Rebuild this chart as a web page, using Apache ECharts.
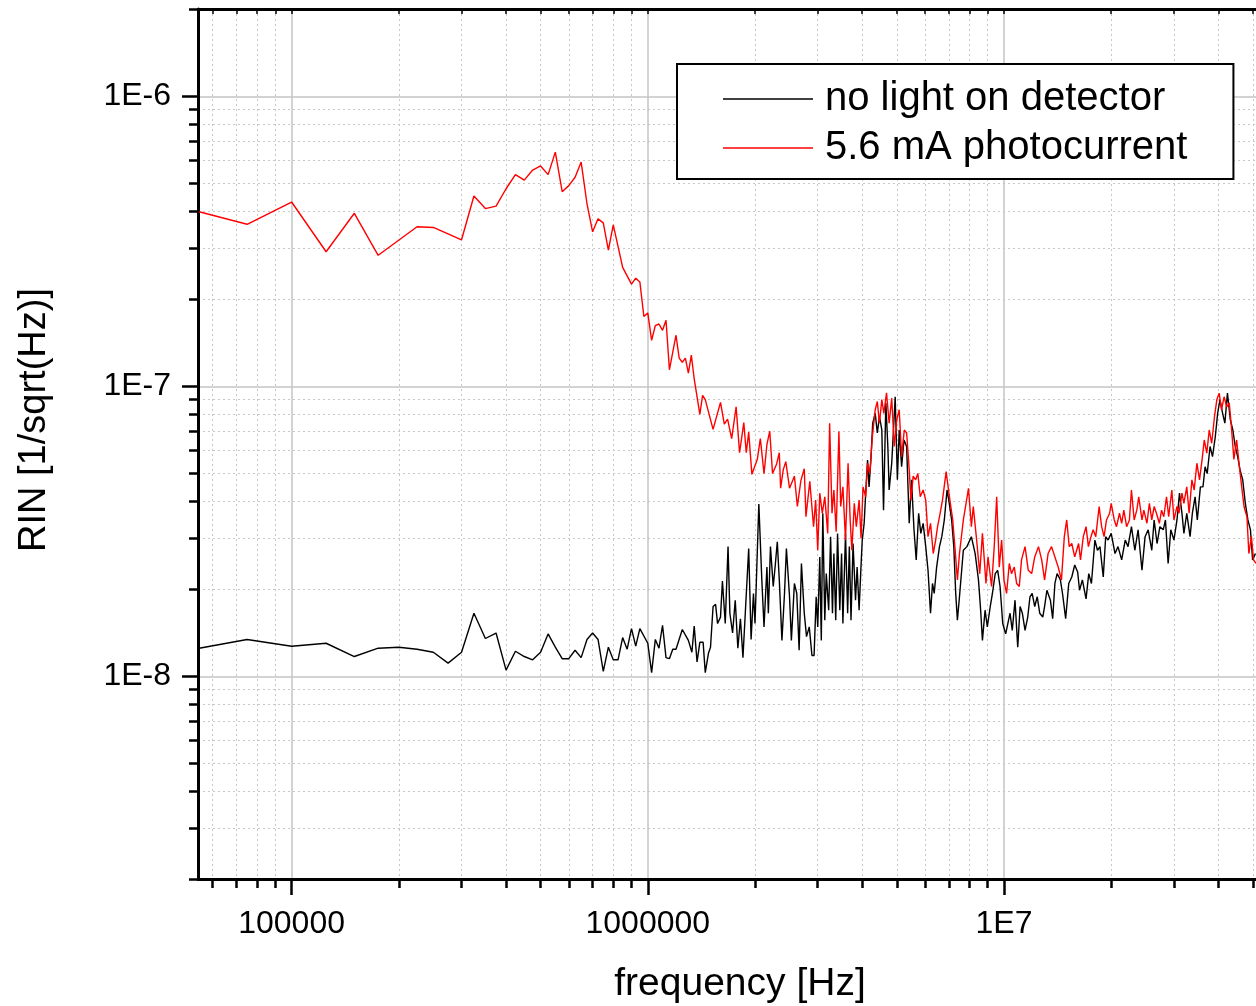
<!DOCTYPE html>
<html>
<head>
<meta charset="utf-8">
<script src="https://cdn.jsdelivr.net/npm/echarts@6/dist/echarts.min.js"></script>
<style>html,body{margin:0;padding:0;background:#fff}#chart{width:1256px;height:1006px}</style>
</head>
<body>
<div id="chart"></div>
<script>
const seriesNames = ['no light on detector', '5.6 mA photocurrent'];
const seriesColors = ['#000000', '#ff0000'];

// ---- "no light on detector" (black) ----
const freqBlack = [
  55000, 75000, 100000, 125000, 150000, 175000, 200000, 225000, 250000, 275000,
  300000, 325000, 350000, 375000, 400000, 425000, 450000, 475000, 500000, 525000,
  550000, 575000, 600000, 625000, 650000, 675000, 700000, 725000, 750000, 775000,
  800000, 825000, 850000, 875000, 900000, 925000, 950000, 1000000, 1025000, 1050000,
  1075000, 1100000, 1125000, 1150000, 1175000, 1200000, 1250000, 1300000, 1330000, 1350000,
  1375000, 1400000, 1430000, 1450000,
  1.48e6, 1.5e6, 1.525e6, 1.55e6, 1.57e6, 1.6e6, 1.62e6, 1.65e6, 1.68e6, 1.7e6,
  1.73e6, 1.76e6, 1.79e6, 1.82e6, 1.85e6, 1.88e6, 1.92e6, 1.95e6, 1.98e6, 2.0e6,
  2.05e6, 2.09e6, 2.12e6, 2.16e6, 2.18e6, 2.21e6, 2.25e6, 2.28e6, 2.31e6, 2.34e6,
  2.38e6, 2.42e6, 2.45e6, 2.5e6, 2.53e6, 2.58e6, 2.62e6, 2.66e6, 2.7e6, 2.75e6,
  2.79e6, 2.84e6, 2.89e6, 2.93e6, 2.97e6, 3.0e6, 3.04e6, 3.07e6, 3.1e6, 3.14e6,
  3.17e6, 3.22e6, 3.26e6, 3.3e6, 3.33e6, 3.37e6, 3.41e6, 3.46e6, 3.5e6, 3.53e6,
  3.59e6, 3.64e6, 3.68e6, 3.72e6, 3.77e6, 3.83e6, 3.87e6, 3.92e6, 3.96e6, 4.0e6,
  4.05e6, 4.09e6, 4.14e6, 4.18e6, 4.23e6, 4.28e6, 4.35e6, 4.41e6, 4.47e6, 4.54e6,
  4.59e6, 4.66e6, 4.72e6, 4.76e6, 4.84e6, 4.95e6, 5.02e6, 5.08e6, 5.16e6, 5.24e6,
  5.33e6, 5.42e6, 5.5e6, 5.59e6, 5.67e6, 5.76e6, 5.84e6, 5.93e6, 6.03e6, 6.12e6,
  6.22e6, 6.3e6, 6.37e6, 6.47e6, 6.59e6, 6.69e6, 6.8e6, 6.92e6, 7.0e6, 7.13e6,
  7.23e6, 7.32e6, 7.4e6, 7.5e6,
  7.69e6, 7.87e6, 8.1e6, 8.3e6, 8.48e6, 8.6e6, 8.7e6, 8.85e6, 8.98e6, 9.15e6,
  9.28e6, 9.45e6, 9.6e6, 9.75e6, 9.92e6, 1.011e7, 1.024e7, 1.04e7, 1.055e7, 1.074e7,
  1.093e7, 1.11e7, 1.126e7, 1.146e7, 1.166e7, 1.183e7, 1.2e7, 1.22e7, 1.24e7, 1.26e7,
  1.285e7, 1.3e7, 1.32e7, 1.35e7, 1.37e7, 1.39e7, 1.41e7, 1.44e7, 1.46e7, 1.49e7,
  1.52e7, 1.55e7, 1.58e7, 1.61e7, 1.63e7, 1.66e7, 1.7e7, 1.73e7, 1.76e7, 1.8e7,
  1.83e7, 1.86e7, 1.9e7, 1.93e7, 1.96e7, 2.0e7, 2.05e7, 2.09e7, 2.14e7, 2.19e7,
  2.23e7, 2.28e7, 2.33e7, 2.38e7, 2.44e7, 2.49e7, 2.54e7, 2.6e7, 2.64e7, 2.69e7,
  2.74e7, 2.8e7, 2.84e7, 2.89e7, 2.94e7, 3.0e7, 3.06e7, 3.11e7, 3.16e7, 3.2e7,
  3.26e7, 3.33e7, 3.38e7, 3.44e7, 3.49e7, 3.56e7, 3.62e7, 3.67e7, 3.72e7, 3.79e7,
  3.85e7, 3.92e7, 3.98e7, 4.04e7, 4.11e7, 4.17e7, 4.24e7, 4.32e7, 4.39e7, 4.46e7,
  4.53e7, 4.6e7, 4.68e7, 4.76e7, 4.84e7, 4.92e7, 4.99e7, 5.08e7
];
const rinBlack = [
  1.25e-8, 1.34e-8, 1.27e-8, 1.3e-8, 1.17e-8, 1.25e-8, 1.26e-8, 1.24e-8, 1.21e-8, 1.11e-8,
  1.21e-8, 1.65e-8, 1.35e-8, 1.41e-8, 1.05e-8, 1.22e-8, 1.17e-8, 1.14e-8, 1.21e-8, 1.4e-8,
  1.26e-8, 1.15e-8, 1.15e-8, 1.23e-8, 1.16e-8, 1.34e-8, 1.41e-8, 1.34e-8, 1.04e-8, 1.26e-8,
  1.14e-8, 1.14e-8, 1.36e-8, 1.24e-8, 1.46e-8, 1.27e-8, 1.46e-8, 1.3e-8, 1.03e-8, 1.34e-8,
  1.25e-8, 1.5e-8, 1.16e-8, 1.15e-8, 1.24e-8, 1.24e-8, 1.45e-8, 1.33e-8, 1.21e-8, 1.49e-8,
  1.12e-8, 1.31e-8, 1.31e-8, 1.03e-8,
  1.2e-8, 1.26e-8, 1.74e-8, 1.77e-8, 1.52e-8, 1.6e-8, 2.13e-8, 1.52e-8, 2.8e-8, 1.65e-8,
  1.41e-8, 1.83e-8, 1.25e-8, 1.58e-8, 1.16e-8, 1.69e-8, 2.76e-8, 1.34e-8, 1.93e-8, 1.52e-8,
  3.93e-8, 2.15e-8, 1.48e-8, 2.38e-8, 1.65e-8, 2.8e-8, 2.04e-8, 2.42e-8, 2.91e-8, 2.15e-8,
  1.33e-8, 1.93e-8, 2.76e-8, 1.88e-8, 1.33e-8, 2.09e-8, 1.93e-8, 1.23e-8, 2.45e-8, 1.65e-8,
  1.37e-8, 1.48e-8, 1.18e-8, 1.18e-8, 1.88e-8, 1.48e-8, 2.58e-8, 1.33e-8, 3.65e-8, 1.56e-8,
  2.26e-8, 1.69e-8, 3.03e-8, 1.65e-8, 2.65e-8, 1.56e-8, 3.11e-8, 1.69e-8, 2.65e-8, 1.52e-8,
  3.11e-8, 1.65e-8, 2.8e-8, 1.56e-8, 2.87e-8, 1.83e-8, 2.38e-8, 1.69e-8, 2.26e-8, 2.95e-8,
  3.37e-8, 4.28e-8, 5.57e-8, 4.5e-8, 5.57e-8, 7.46e-8, 8.07e-8, 6.9e-8, 7.87e-8, 7.07e-8,
  3.74e-8, 8.76e-8, 6.2e-8, 4.39e-8, 5.43e-8, 9.2e-8, 4.76e-8, 7.07e-8, 5.28e-8, 6.53e-8,
  6.2e-8, 3.37e-8, 4.76e-8, 3.2e-8, 2.52e-8, 3.65e-8, 3.11e-8, 3.37e-8, 2.8e-8, 2.32e-8,
  1.65e-8, 2.09e-8, 1.93e-8, 2.38e-8, 2.8e-8, 3.03e-8, 3.46e-8, 4.39e-8, 4.05e-8, 3.46e-8,
  2.8e-8, 1.93e-8, 1.56e-8, 1.88e-8,
  2.72e-8, 2.8e-8, 3.03e-8, 2.65e-8, 2.15e-8, 1.69e-8, 1.33e-8, 1.69e-8, 1.48e-8, 1.74e-8,
  1.93e-8, 2.26e-8, 2.32e-8, 2.04e-8, 1.52e-8, 1.4e-8, 1.4e-8, 1.65e-8, 1.44e-8, 1.83e-8,
  1.26e-8, 1.74e-8, 1.65e-8, 1.44e-8, 1.6e-8, 1.88e-8, 1.93e-8, 1.74e-8, 1.88e-8, 1.65e-8,
  1.6e-8, 1.74e-8, 1.98e-8, 1.83e-8, 1.58e-8, 2.09e-8, 2.26e-8, 2.15e-8, 1.93e-8, 1.58e-8,
  2.09e-8, 2.2e-8, 2.42e-8, 2.29e-8, 1.98e-8, 2.15e-8, 1.85e-8, 2.26e-8, 2.09e-8, 2.95e-8,
  2.72e-8, 2.8e-8, 2.2e-8, 3.03e-8, 2.95e-8, 3.11e-8, 2.65e-8, 2.8e-8, 2.52e-8, 2.95e-8,
  2.8e-8, 3.28e-8, 2.72e-8, 3.2e-8, 2.32e-8, 3.03e-8, 3.2e-8, 2.72e-8, 3.46e-8, 2.87e-8,
  3.28e-8, 3.2e-8, 3.46e-8, 2.45e-8, 3.2e-8, 2.95e-8, 3.46e-8, 4.28e-8, 3.65e-8, 3.11e-8,
  3.65e-8, 3.03e-8, 3.65e-8, 4.16e-8, 3.46e-8, 4.5e-8, 4.5e-8, 5.28e-8, 5.0e-8, 6.2e-8,
  5.72e-8, 6.7e-8, 8.07e-8, 9.0e-8, 8.07e-8, 7.46e-8, 9.47e-8, 7.67e-8, 7.07e-8, 6.2e-8,
  5.72e-8, 5.15e-8, 4.76e-8, 3.95e-8, 3.46e-8, 3.2e-8, 2.52e-8, 2.65e-8
];

// ---- "5.6 mA photocurrent" (red) ----
const freqRed = [
  55000, 75000, 100000, 125000, 150000, 175000, 225000, 250000, 300000, 325000,
  350000, 375000, 400000, 425000, 450000, 475000, 500000, 525000, 550000, 575000,
  600000, 625000, 650000, 675000, 700000, 725000, 750000, 775000, 800000, 850000,
  900000, 925000, 950000, 975000, 1000000, 1025000, 1050000, 1075000, 1100000, 1125000,
  1150000, 1200000, 1225000, 1250000, 1275000, 1300000, 1325000,
  1.35e6, 1.4e6, 1.425e6, 1.45e6, 1.525e6, 1.6e6, 1.64e6, 1.675e6, 1.72e6, 1.77e6,
  1.81e6, 1.86e6, 1.89e6, 1.92e6, 1.96e6, 1.98e6, 2.03e6, 2.07e6, 2.12e6, 2.16e6,
  2.2e6, 2.24e6, 2.3e6, 2.34e6, 2.36e6, 2.4e6, 2.44e6, 2.5e6, 2.58e6, 2.63e6,
  2.69e6, 2.75e6, 2.78e6, 2.85e6, 2.92e6, 2.96e6, 3.0e6, 3.04e6, 3.09e6, 3.14e6,
  3.2e6, 3.24e6, 3.29e6, 3.33e6, 3.38e6, 3.44e6, 3.48e6, 3.53e6, 3.59e6, 3.65e6,
  3.7e6, 3.74e6, 3.8e6, 3.85e6, 3.92e6, 3.97e6, 4.02e6, 4.09e6, 4.14e6, 4.2e6,
  4.27e6, 4.35e6, 4.41e6, 4.47e6, 4.54e6, 4.6e6, 4.68e6, 4.76e6, 4.84e6, 4.92e6,
  5.0e6, 5.08e6, 5.16e6, 5.25e6, 5.33e6, 5.42e6, 5.48e6, 5.56e6, 5.65e6, 5.73e6,
  5.82e6, 5.93e6, 6.03e6, 6.12e6, 6.22e6, 6.33e6, 6.43e6, 6.51e6, 6.62e6, 6.72e6,
  6.88e6, 6.97e6, 7.07e6, 7.18e6, 7.28e6, 7.4e6, 7.5e6,
  7.69e6, 7.95e6, 8.1e6, 8.2e6, 8.38e6, 8.55e6, 8.7e6, 8.9e6, 9.02e6, 9.23e6,
  9.39e6, 9.54e6, 9.7e6, 9.85e6, 1.0e7, 1.017e7, 1.035e7, 1.05e7, 1.069e7, 1.085e7,
  1.104e7, 1.12e7, 1.146e7, 1.17e7, 1.196e7, 1.22e7, 1.25e7, 1.276e7, 1.3e7, 1.33e7,
  1.36e7, 1.39e7, 1.42e7, 1.45e7, 1.477e7, 1.5e7, 1.525e7, 1.55e7, 1.58e7, 1.62e7,
  1.64e7, 1.67e7, 1.7e7, 1.726e7, 1.755e7, 1.78e7, 1.81e7, 1.85e7, 1.88e7, 1.91e7,
  1.94e7, 1.98e7, 2.0e7, 2.04e7, 2.07e7, 2.11e7, 2.14e7, 2.17e7, 2.21e7, 2.25e7,
  2.28e7, 2.32e7, 2.36e7, 2.39e7, 2.44e7, 2.47e7, 2.52e7, 2.56e7, 2.6e7, 2.64e7,
  2.68e7, 2.73e7, 2.77e7, 2.81e7, 2.86e7, 2.9e7, 2.96e7, 3.0e7, 3.06e7, 3.1e7,
  3.16e7, 3.2e7, 3.26e7, 3.31e7, 3.37e7, 3.42e7, 3.48e7, 3.54e7, 3.6e7, 3.65e7,
  3.71e7, 3.77e7, 3.83e7, 3.9e7, 3.96e7, 4.02e7, 4.08e7, 4.15e7, 4.22e7, 4.29e7,
  4.35e7, 4.42e7, 4.5e7, 4.58e7, 4.65e7, 4.72e7, 4.81e7, 4.87e7, 4.95e7, 5.02e7,
  5.1e7
];
const rinRed = [
  4.0e-7, 3.62e-7, 4.32e-7, 2.91e-7, 3.95e-7, 2.83e-7, 3.55e-7, 3.53e-7, 3.2e-7, 4.53e-7,
  4.1e-7, 4.18e-7, 4.8e-7, 5.37e-7, 5.14e-7, 5.57e-7, 5.75e-7, 5.37e-7, 6.42e-7, 4.69e-7,
  4.92e-7, 5.26e-7, 5.93e-7, 4.26e-7, 3.41e-7, 3.78e-7, 3.66e-7, 2.95e-7, 3.6e-7, 2.57e-7,
  2.25e-7, 2.36e-7, 2.29e-7, 1.74e-7, 1.79e-7, 1.44e-7, 1.62e-7, 1.64e-7, 1.56e-7, 1.69e-7,
  1.14e-7, 1.5e-7, 1.25e-7, 1.21e-7, 1.25e-7, 1.11e-7, 1.28e-7,
  1.06e-7, 8.0e-8, 9.3e-8, 9.0e-8, 7.1e-8, 8.8e-8, 7.4e-8, 7.7e-8, 6.6e-8, 8.5e-8,
  5.9e-8, 7.5e-8, 5.9e-8, 6.95e-8, 4.97e-8, 4.97e-8, 5.6e-8, 6.6e-8, 5.0e-8, 6.3e-8,
  7.0e-8, 5.0e-8, 5.4e-8, 5.9e-8, 4.45e-8, 5.15e-8, 5.5e-8, 4.45e-8, 4.9e-8, 3.85e-8,
  4.73e-8, 5.2e-8, 3.55e-8, 4.7e-8, 3.28e-8, 4.05e-8, 2.72e-8, 4.28e-8, 3.65e-8, 4.16e-8,
  3.11e-8, 7.46e-8, 3.65e-8, 4.39e-8, 3.15e-8, 6.99e-8, 3.85e-8, 4.5e-8, 2.95e-8, 5.43e-8,
  3.46e-8, 2.72e-8, 3.95e-8, 3.28e-8, 4.05e-8, 2.99e-8, 4.5e-8, 4.16e-8, 5.43e-8, 5.0e-8,
  6.7e-8, 8.3e-8, 8.86e-8, 7.46e-8, 9.0e-8, 8.07e-8, 9.5e-8, 7.46e-8, 9.1e-8, 6.2e-8,
  7.67e-8, 8.3e-8, 5.72e-8, 7.07e-8, 6.9e-8, 5.15e-8, 4.05e-8, 4.9e-8, 4.76e-8, 5.0e-8,
  4.16e-8, 4.39e-8, 4.05e-8, 3.03e-8, 3.37e-8, 2.65e-8, 2.95e-8, 3.28e-8, 3.65e-8, 4.05e-8,
  5.08e-8, 4.5e-8, 3.95e-8, 3.46e-8, 2.8e-8, 2.15e-8, 2.65e-8,
  3.46e-8, 4.45e-8, 3.28e-8, 3.85e-8, 2.95e-8, 2.26e-8, 3.11e-8, 2.09e-8, 2.58e-8, 2.04e-8,
  2.8e-8, 4.16e-8, 2.38e-8, 2.95e-8, 2.15e-8, 1.93e-8, 2.45e-8, 2.26e-8, 2.38e-8, 2.09e-8,
  2.04e-8, 2.52e-8, 2.8e-8, 2.32e-8, 2.26e-8, 2.58e-8, 2.8e-8, 2.52e-8, 2.15e-8, 2.65e-8,
  2.8e-8, 2.58e-8, 2.38e-8, 2.15e-8, 3.03e-8, 3.46e-8, 2.8e-8, 2.87e-8, 2.58e-8, 2.87e-8,
  2.52e-8, 3.03e-8, 3.28e-8, 2.8e-8, 3.03e-8, 3.2e-8, 3.03e-8, 3.85e-8, 3.28e-8, 3.03e-8,
  3.46e-8, 3.65e-8, 3.95e-8, 3.46e-8, 3.28e-8, 3.65e-8, 3.37e-8, 3.74e-8, 3.28e-8, 3.46e-8,
  4.39e-8, 3.46e-8, 3.74e-8, 4.16e-8, 3.46e-8, 3.74e-8, 3.37e-8, 3.95e-8, 3.46e-8, 3.85e-8,
  3.65e-8, 3.37e-8, 3.74e-8, 3.55e-8, 4.16e-8, 3.55e-8, 4.39e-8, 3.46e-8, 3.85e-8, 3.65e-8,
  4.28e-8, 3.95e-8, 4.5e-8, 3.65e-8, 4.76e-8, 4.39e-8, 5.43e-8, 4.76e-8, 5.6e-8, 6.53e-8,
  5.88e-8, 7.07e-8, 6.36e-8, 7.87e-8, 9.0e-8, 9.47e-8, 8.3e-8, 9.2e-8, 8.5e-8, 8.76e-8,
  7.25e-8, 5.6e-8, 6.53e-8, 5.28e-8, 4.5e-8, 3.85e-8, 3.55e-8, 2.65e-8, 3.03e-8, 2.52e-8,
  2.45e-8
];

// ---- axes ----
const xMajorTicks = [1e5, 1e6, 1e7];
const xMajorLabels = ['100000', '1000000', '1E7'];
const xMinorTicks = [6e4, 7e4, 8e4, 9e4, 2e5, 3e5, 4e5, 5e5, 6e5, 7e5, 8e5, 9e5,
  2e6, 3e6, 4e6, 5e6, 6e6, 7e6, 8e6, 9e6, 2e7, 3e7, 4e7, 5e7];
const yMajorTicks = [1e-8, 1e-7, 1e-6];
const yMajorLabels = ['1E-8', '1E-7', '1E-6'];
const yMinorTicks = [2e-9, 3e-9, 4e-9, 5e-9, 6e-9, 7e-9, 8e-9, 9e-9,
  2e-8, 3e-8, 4e-8, 5e-8, 6e-8, 7e-8, 8e-8, 9e-8,
  2e-7, 3e-7, 4e-7, 5e-7, 6e-7, 7e-7, 8e-7, 9e-7, 2e-6];
const xAxisName = 'frequency [Hz]';
const yAxisName = 'RIN [1/sqrt(Hz)]';

const FONT = "'Liberation Sans', Arial, Helvetica, sans-serif";
const X_MIN = 54600, X_MAX = 5.1e7, Y_MIN = 2e-9, Y_MAX = 2e-6;

function labelFor(v, ticks, labels) {
  for (let i = 0; i < ticks.length; i++) {
    if (Math.abs(Math.log10(v) - Math.log10(ticks[i])) < 1e-6) return labels[i];
  }
  return '';
}
function zip(xs, ys) {
  const n = Math.min(xs.length, ys.length);
  const out = [];
  for (let i = 0; i < n; i++) out.push([xs[i], ys[i]]);
  return out;
}

const majorGrid = { show: true, lineStyle: { color: '#c4c4c4', width: 1.5, type: 'solid' } };
const minorGrid = { show: true, lineStyle: { color: '#c8c8c8', width: 1, type: [2, 3] } };

const chart = echarts.init(document.getElementById('chart'), null, { renderer: 'canvas' });
chart.setOption({
  animation: false,
  backgroundColor: '#ffffff',
  grid: { left: 198, right: 0, top: 9, bottom: 127, containLabel: false, outerBoundsMode: 'none' },
  legend: {
    orient: 'vertical',
    left: 677, top: 64,
    padding: [15, 46, 11, 46],
    icon: 'rect',
    itemWidth: 90, itemHeight: 1.5, itemGap: 9,
    backgroundColor: '#ffffff',
    borderColor: '#000000', borderWidth: 2,
    selectedMode: false,
    textStyle: { fontSize: 40, fontFamily: FONT, color: '#000', padding: [0, 0, 0, 7] },
    data: seriesNames
  },
  xAxis: [
    {
      type: 'log', min: X_MIN, max: X_MAX, position: 'bottom',
      name: xAxisName, nameLocation: 'middle', nameGap: 86,
      nameTextStyle: { fontSize: 39, fontFamily: FONT, color: '#000', padding: [0, 0, 0, 26] },
      axisLine: { show: true, lineStyle: { color: '#000', width: 3 } },
      axisTick: { show: true, inside: false, length: 16, lineStyle: { color: '#000', width: 2.5 }, customValues: xMajorTicks },
      axisLabel: { show: true, customValues: xMajorTicks, formatter: v => labelFor(v, xMajorTicks, xMajorLabels),
        fontSize: 32, fontFamily: FONT, color: '#000', margin: 29 },
      splitLine: majorGrid,
      minorTick: { show: false }, minorSplitLine: { show: false }
    },
    {
      type: 'log', min: X_MIN, max: X_MAX, position: 'bottom',
      axisLine: { show: false },
      axisTick: { show: true, inside: false, length: 9, lineStyle: { color: '#000', width: 2.5 }, customValues: xMinorTicks },
      axisLabel: { show: false },
      splitLine: minorGrid
    },
    {
      type: 'log', min: X_MIN, max: X_MAX, position: 'top',
      axisLine: { show: true, lineStyle: { color: '#000', width: 3 } },
      axisTick: { show: true, inside: true, length: 5, lineStyle: { color: '#000', width: 1.5 }, customValues: xMinorTicks.concat(xMajorTicks) },
      axisLabel: { show: false },
      splitLine: { show: false }
    }
  ],
  yAxis: [
    {
      type: 'log', min: Y_MIN, max: Y_MAX, position: 'left',
      name: yAxisName, nameLocation: 'middle', nameGap: 144,
      nameTextStyle: { fontSize: 38, fontFamily: FONT, color: '#000', padding: [0, 0, 0, 48] },
      axisLine: { show: true, lineStyle: { color: '#000', width: 3 } },
      axisTick: { show: true, inside: false, length: 16, lineStyle: { color: '#000', width: 2.5 }, customValues: yMajorTicks },
      axisLabel: { show: true, customValues: yMajorTicks, formatter: v => labelFor(v, yMajorTicks, yMajorLabels),
        fontSize: 32, fontFamily: FONT, color: '#000', margin: 27, padding: [4, 0, 0, 0] },
      splitLine: majorGrid,
      minorTick: { show: false }, minorSplitLine: { show: false }
    },
    {
      type: 'log', min: Y_MIN, max: Y_MAX, position: 'left',
      axisLine: { show: false },
      axisTick: { show: true, inside: false, length: 9, lineStyle: { color: '#000', width: 2.5 }, customValues: yMinorTicks },
      axisLabel: { show: false },
      splitLine: minorGrid
    }
  ],
  series: [
    {
      name: seriesNames[0], type: 'line', xAxisIndex: 0, yAxisIndex: 0,
      data: zip(freqBlack, rinBlack),
      symbol: 'none', showSymbol: false, clip: true,
      lineStyle: { color: seriesColors[0], width: 1.4 },
      itemStyle: { color: seriesColors[0] },
      z: 3
    },
    {
      name: seriesNames[1], type: 'line', xAxisIndex: 0, yAxisIndex: 0,
      data: zip(freqRed, rinRed),
      symbol: 'none', showSymbol: false, clip: true,
      lineStyle: { color: seriesColors[1], width: 1.4 },
      itemStyle: { color: seriesColors[1] },
      z: 4
    }
  ]
});
</script>
</body>
</html>
